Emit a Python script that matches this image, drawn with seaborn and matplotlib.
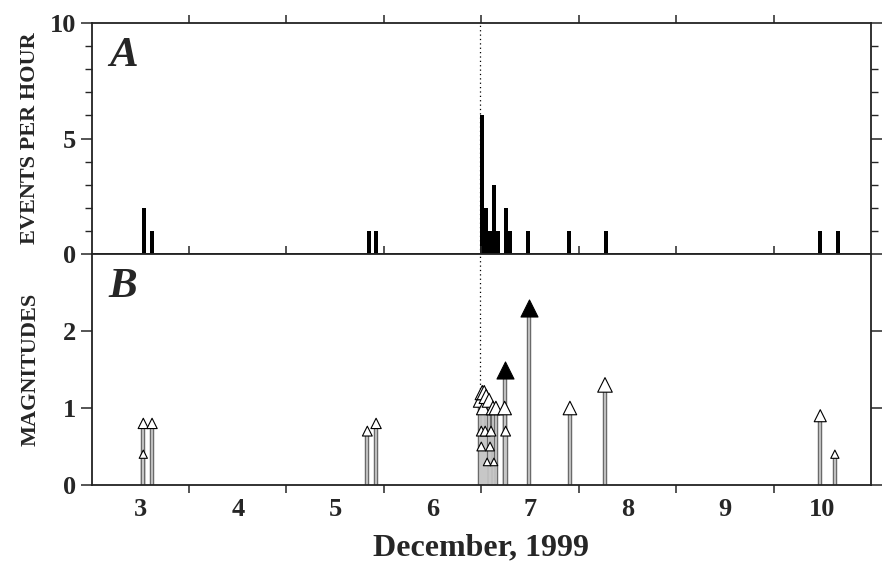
import matplotlib
matplotlib.use('Agg')
import matplotlib.pyplot as plt
import seaborn as sns
import numpy as np
import pandas as pd

# --- data (day of December 1999) ---
# panel A: events per hour (hourly bins, centre of bin)
bar_day = [3.04, 3.12, 5.35, 5.42,
           6.51, 6.55, 6.59, 6.63, 6.67, 6.75, 6.79,
           6.98, 7.40, 7.78, 9.98, 10.16]
bar_count = [2, 1, 1, 1,
             6, 2, 1, 3, 1, 2, 1,
             1, 1, 1, 1, 1]

# panel B: magnitudes of single events
mag_day = [3.03, 3.03, 3.12, 5.33, 5.42,
           6.49, 6.50, 6.50, 6.51, 6.52, 6.53, 6.54, 6.55, 6.56,
           6.58, 6.59, 6.60, 6.62, 6.63, 6.65,
           6.74, 6.74, 6.75, 6.985, 7.41, 7.77, 9.98, 10.13]
mag_value = [0.8, 0.4, 0.8, 0.7, 0.8,
             1.1, 0.7, 0.5, 1.2, 1.0, 1.2, 0.7, 1.15, 0.3,
             1.1, 0.5, 0.7, 1.0, 0.3, 1.0,
             1.5, 1.0, 0.7, 2.3, 1.0, 1.3, 0.9, 0.4]
mag_felt = [False] * 20 + [True, False, False, True, False, False, False, False]

day_labels = [3, 4, 5, 6, 7, 8, 9, 10]
onset_day = 6.49

sns.set_style("ticks")
plt.rcParams['font.family'] = ['Liberation Serif', 'DejaVu Serif']
plt.rcParams['font.weight'] = 'bold'
plt.rcParams['axes.linewidth'] = 1.3
plt.rcParams['axes.edgecolor'] = '#222222'

fig = plt.figure(figsize=(8.96, 5.70), dpi=100)
axA = fig.add_axes([0.1023, 0.5544, 0.8697, 0.4052])
axB = fig.add_axes([0.1023, 0.1491, 0.8697, 0.4053])

# ---- A: histogram of events per hour
axA.bar(bar_day, bar_count, width=1 / 24 * 1.05, color='black', edgecolor='none')
axA.set_ylim(0, 10)
axA.set_yticks([0, 5, 10])
axA.set_yticks(range(11), minor=True)
axA.set_ylabel('EVENTS PER HOUR', fontsize=16, fontweight='bold')
axA.yaxis.set_label_coords(-0.066, 0.5)
axA.text(0.022, 0.94, 'A', transform=axA.transAxes, fontsize=31,
         fontweight='bold', fontstyle='italic', va='top', ha='left')

# ---- B: magnitudes as stems with triangles
df = pd.DataFrame({'day': mag_day, 'mag': mag_value, 'felt': mag_felt})
axB.vlines(df['day'], 0, df['mag'], color='#6a6a6a', lw=3.2, zorder=1)
axB.vlines(df['day'], 0, df['mag'], color='#c8c8c8', lw=1.3, zorder=1)
sizes = np.interp(df['mag'], [0.3, 0.8, 1.0, 1.5], [30, 55, 95, 120])
open_df = df[~df['felt']]
felt_df = df[df['felt']]
sns.scatterplot(data=open_df, x='day', y='mag', marker='^', s=sizes[~df['felt']],
                color='white', edgecolor='black', linewidth=0.8, ax=axB,
                zorder=3, legend=False)
sns.scatterplot(data=felt_df, x='day', y='mag', marker='^', s=150,
                color='black', edgecolor='black', linewidth=0.8, ax=axB,
                zorder=3, legend=False)
axB.set_ylim(0, 3)
axB.set_yticks([0, 1, 2])
axB.set_ylabel('MAGNITUDES', fontsize=16, fontweight='bold')
axB.yaxis.set_label_coords(-0.066, 0.5)
axB.set_xlabel('December, 1999', fontsize=23, fontweight='bold', labelpad=9)
axB.text(0.022, 0.94, 'B', transform=axB.transAxes, fontsize=31,
         fontweight='bold', fontstyle='italic', va='top', ha='left')

for ax in (axA, axB):
    ax.set_xlim(2.5, 10.5)
    ax.set_xticks(day_labels)
    ax.set_xticklabels([str(d) for d in day_labels])
    ax.set_xticks(np.arange(3.5, 10.5, 1.0), minor=True)
    ax.tick_params(axis='x', which='major', length=0, labelsize=19, pad=9)
    ax.tick_params(axis='x', which='minor', direction='out', length=6,
                   width=1.1, top=True, bottom=True)
    ax.tick_params(axis='y', which='major', direction='out', length=8,
                   width=1.1, labelsize=19, right=True, pad=3)
    ax.tick_params(axis='y', which='minor', direction='out', length=5,
                   width=1.0, right=True)
    for lab in ax.get_xticklabels() + ax.get_yticklabels():
        lab.set_fontweight('bold')
    ax.axvline(onset_day, color='black', lw=0.9, ls=(0, (1, 2.5)), zorder=0)
    sns.despine(ax=ax, top=False, right=False)

axA.tick_params(axis='x', labelbottom=False)

plt.savefig('out.png', dpi=100)
plt.close('all')
